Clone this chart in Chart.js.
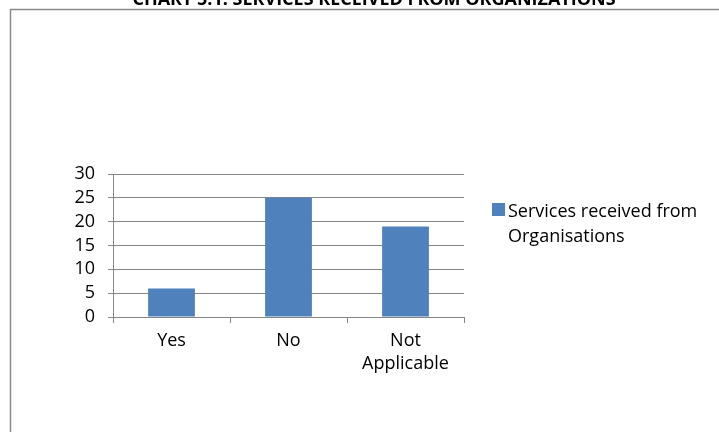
<!DOCTYPE html>
<html>
<head>
<meta charset="utf-8">
<title>Services received from Organisations</title>
<script src="https://cdn.jsdelivr.net/npm/chart.js@4/dist/chart.umd.min.js"></script>
<style>
    html, body { margin: 0; padding: 0; background: #fff; }
    canvas { display: block; }
</style>
</head>
<body>
<canvas id="servicosChart" width="719" height="432"></canvas>
<script>
const tituloGrafico = 'CHART 5.1: SERVICES RECEIVED FROM ORGANIZATIONS';
const categorias = ['Yes', 'No', ['Not', 'Applicable']];
const rotuloSerie = 'Services received from Organisations';
const legendaLinhas = ['Services received from', 'Organisations'];
const valores = [6, 25, 19];
const marcasEixoY = [0, 5, 10, 15, 20, 25, 30];

const corBarra = '#4F81BD';
const corGrade = '#868686';

Chart.defaults.font.family = "'Open Sans', sans-serif";
Chart.defaults.font.size = 18;
Chart.defaults.color = '#000';

// moldura, título e legenda desenhados à mão
const molduraELegenda = {
    id: 'molduraELegenda',
    beforeDraw(chart) {
        const ctx = chart.ctx;
        ctx.save();
        ctx.strokeStyle = '#8a8a8a';
        ctx.lineWidth = 1.5;
        ctx.strokeRect(10.5, 9.5, 760, 480);

        ctx.fillStyle = '#000';
        ctx.font = "bold 18px 'Open Sans', sans-serif";
        ctx.textAlign = 'center';
        ctx.textBaseline = 'alphabetic';
        ctx.fillText(tituloGrafico, 374, 5, 491);
        ctx.restore();
    },
    afterDraw(chart) {
        const ctx = chart.ctx;
        const area = chart.chartArea;
        const ds = chart.data.datasets[0];
        const x = area.right + 28;
        const y = area.top + 29;
        ctx.save();
        ctx.fillStyle = ds.backgroundColor;
        ctx.fillRect(x, y, 13, 13);
        ctx.fillStyle = '#000';
        ctx.font = "18px 'Open Sans', sans-serif";
        ctx.textAlign = 'left';
        ctx.textBaseline = 'alphabetic';
        legendaLinhas.forEach((linha, i) => {
            ctx.fillText(linha, x + 16, y + 14 + i * 25);
        });
        ctx.restore();
    }
};

const ctx = document.getElementById('servicosChart').getContext('2d');
new Chart(ctx, {
    type: 'bar',
    data: {
        labels: categorias,
        datasets: [{
            label: rotuloSerie,
            data: valores,
            backgroundColor: corBarra,
            barPercentage: 0.4,
            categoryPercentage: 1.0
        }]
    },
    options: {
        responsive: false,
        animation: false,
        layout: {
            padding: { top: 174, right: 255, bottom: 0, left: 0 }
        },
        plugins: {
            legend: { display: false },
            title: { display: false },
            tooltip: { enabled: false }
        },
        scales: {
            x: {
                grid: {
                    offset: true,
                    drawOnChartArea: false,
                    color: corGrade,
                    tickLength: 6
                },
                border: { color: corGrade },
                ticks: {
                    padding: 7,
                    font: { lineHeight: 1.25 }
                },
                afterFit(scale) {
                    scale.height = 115;
                }
            },
            y: {
                min: 0,
                max: 30,
                grid: {
                    color: corGrade,
                    tickLength: 5
                },
                border: { color: corGrade },
                afterBuildTicks(scale) {
                    scale.ticks = marcasEixoY.map(v => ({ value: v }));
                },
                ticks: {
                    padding: 13,
                    autoSkip: false
                },
                afterFit(scale) {
                    scale.width = 113;
                }
            }
        }
    },
    plugins: [molduraELegenda]
});
</script>
</body>
</html>
